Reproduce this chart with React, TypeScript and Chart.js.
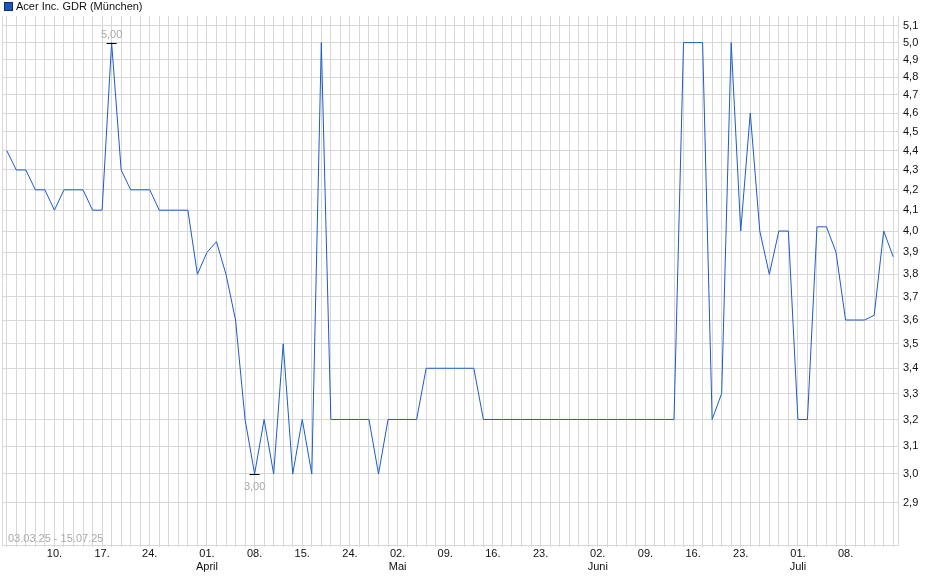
import { useEffect, useRef } from 'react';
import { Chart, registerables } from 'chart.js';

Chart.register(...registerables);

const seriesName = 'Acer Inc. GDR (München)';
const rangeText = '03.03.25 - 15.07.25';

// trading days per month (2025)
const marchDays = [3, 4, 5, 6, 7, 10, 11, 12, 13, 14, 17, 18, 19, 20, 21, 24, 25, 26, 27, 28, 31];
const aprilDays = [1, 2, 3, 4, 7, 8, 9, 10, 11, 14, 15, 16, 17, 22, 23, 24, 25, 28, 29, 30];
const mayDays = [2, 5, 6, 7, 8, 9, 12, 13, 14, 15, 16, 19, 20, 21, 22, 23, 26, 27, 28, 29, 30];
const juneDays = [2, 3, 4, 5, 6, 9, 10, 11, 12, 13, 16, 17, 18, 19, 20, 23, 24, 25, 26, 27, 30];
const julyDays = [1, 2, 3, 4, 7, 8, 9, 10, 11, 14, 15];

const prices = [
  4.4, 4.3, 4.3, 4.2, 4.2, 4.1, 4.2, 4.2, 4.2, 4.1, 4.1,
  5.0,
  4.3, 4.2, 4.2, 4.2, 4.1, 4.1, 4.1, 4.1,
  3.8, 3.9, 3.95, 3.8, 3.6,
  3.2, 3.0, 3.2, 3.0, 3.5, 3.0, 3.2, 3.0, 5.0,
  3.2, 3.2, 3.2, 3.2, 3.2,
  3.0,
  3.2, 3.2, 3.2, 3.2,
  3.4, 3.4, 3.4, 3.4, 3.4, 3.4,
  3.2, 3.2, 3.2, 3.2, 3.2, 3.2, 3.2, 3.2, 3.2, 3.2, 3.2,
  3.2, 3.2, 3.2, 3.2, 3.2, 3.2, 3.2, 3.2, 3.2, 3.2,
  5.0, 5.0, 5.0,
  3.2, 3.3, 5.0, 4.0, 4.6, 4.0, 3.8, 4.0, 4.0, 3.2,
  3.2, 4.02, 4.02, 3.9, 3.6, 3.6, 3.6, 3.62, 4.0, 3.88,
];

const tickDates = [
  '10.03', '17.03', '24.03', '01.04', '08.04', '15.04', '24.04', '02.05', '09.05',
  '16.05', '23.05', '02.06', '09.06', '16.06', '23.06', '01.07', '08.07',
];
const monthStarts = ['01.04', '02.05', '02.06', '01.07'];
const monthNames = ['April', 'Mai', 'Juni', 'Juli'];

const yTicks = [2.9, 3.0, 3.1, 3.2, 3.3, 3.4, 3.5, 3.6, 3.7, 3.8, 3.9, 4.0, 4.1, 4.2, 4.3, 4.4, 4.5, 4.6, 4.7, 4.8, 4.9, 5.0, 5.1];

const pad = (n: number) => (n < 10 ? '0' + n : '' + n);
const dates: string[] = [
  ...marchDays.map((d) => pad(d) + '.03'),
  ...aprilDays.map((d) => pad(d) + '.04'),
  ...mayDays.map((d) => pad(d) + '.05'),
  ...juneDays.map((d) => pad(d) + '.06'),
  ...julyDays.map((d) => pad(d) + '.07'),
];

const FONT = '"Liberation Sans", Arial, sans-serif';
const fmt = (v: number, digits: number) => v.toFixed(digits).replace('.', ',');

const overlay = {
  id: 'overlay',
  afterDraw(chart: Chart) {
    const ctx = chart.ctx;
    const area = chart.chartArea;
    const xs = chart.scales.x;
    const ys = chart.scales.y;
    ctx.save();

    // left border of the plot
    ctx.strokeStyle = '#d8d8d8';
    ctx.lineWidth = 1;
    ctx.beginPath();
    ctx.moveTo(Math.round(area.left) + 0.5, area.top);
    ctx.lineTo(Math.round(area.left) + 0.5, area.bottom);
    ctx.stroke();

    // legend
    ctx.fillStyle = '#1d55b8';
    ctx.fillRect(4, 2, 9, 9);
    ctx.strokeStyle = '#0c2c6a';
    ctx.strokeRect(4.5, 2.5, 8, 8);
    ctx.fillStyle = '#111';
    ctx.font = '11px ' + FONT;
    ctx.textBaseline = 'middle';
    ctx.textAlign = 'left';
    ctx.fillText(seriesName, 16, 7);

    // range text
    ctx.fillStyle = '#a9a9a9';
    ctx.font = '11px ' + FONT;
    ctx.fillText(rangeText, 8, area.bottom - 6);

    // high / low markers
    const hi = Math.max(...prices);
    const lo = Math.min(...prices);
    const hiIdx = prices.indexOf(hi);
    const loIdx = prices.indexOf(lo);
    const mark = (idx: number, v: number, above: boolean) => {
      const px = xs.getPixelForValue(idx);
      const py = Math.round(ys.getPixelForValue(v)) + 0.5;
      ctx.strokeStyle = '#000';
      ctx.lineWidth = 1;
      ctx.beginPath();
      ctx.moveTo(px - 5, py);
      ctx.lineTo(px + 5, py);
      ctx.stroke();
      ctx.fillStyle = '#a9a9a9';
      ctx.textAlign = 'center';
      ctx.fillText(fmt(v, 2), px, above ? py - 9 : py + 12);
    };
    mark(hiIdx, hi, true);
    mark(loIdx, lo, false);
    ctx.restore();
  },
};

export default function App() {
  const chartRef = useRef<HTMLCanvasElement>(null);
  const chartInstance = useRef<Chart | null>(null);

  useEffect(() => {
    document.body.style.margin = '0';
    if (!chartRef.current) return;
    if (chartInstance.current) chartInstance.current.destroy();
    const ctx = chartRef.current.getContext('2d');
    if (!ctx) return;

    chartInstance.current = new Chart(ctx, {
      type: 'line',
      data: {
        labels: dates,
        datasets: [
          {
            label: seriesName,
            data: prices,
            borderColor: '#1a5cc8',
            backgroundColor: '#1d55b8',
            borderWidth: 1,
            pointRadius: 0,
            tension: 0,
          },
        ],
      },
      options: {
        responsive: true,
        maintainAspectRatio: false,
        animation: false,
        layout: { padding: { top: 16, left: 2, right: 0, bottom: 0 } },
        plugins: {
          legend: { display: false },
          tooltip: { enabled: false },
        },
        scales: {
          x: {
            type: 'category',
            offset: true,
            grid: {
              offset: false,
              color: '#d8d8d8',
              lineWidth: 1,
              drawTicks: true,
              tickLength: 2,
            },
            border: { display: true, color: '#d8d8d8' },
            afterFit(scale: any) {
              scale.height = 34;
            },
            ticks: {
              autoSkip: false,
              maxRotation: 0,
              minRotation: 0,
              padding: 1,
              color: '#111',
              font: { family: FONT, size: 11, lineHeight: 1.15 },
              callback(_v: any, i: number) {
                const d = dates[i];
                if (!tickDates.includes(d)) return '';
                const day = d.slice(0, 3);
                const m = monthStarts.indexOf(d);
                return m >= 0 ? [day, monthNames[m]] : day;
              },
            },
          },
          y: {
            type: 'logarithmic',
            position: 'right',
            min: 2.758,
            max: 5.16,
            grid: { color: '#d8d8d8', lineWidth: 1, drawTicks: false },
            border: { display: true, color: '#d8d8d8' },
            afterBuildTicks(scale: any) {
              scale.ticks = yTicks.map((v) => ({ value: v }));
            },
            afterFit(scale: any) {
              scale.width = 42;
            },
            ticks: {
              autoSkip: false,
              padding: 5,
              color: '#111',
              font: { family: FONT, size: 11 },
              callback(v: any) {
                return fmt(Number(v), 1);
              },
            },
          },
        },
      },
      plugins: [overlay],
    });

    return () => {
      if (chartInstance.current) {
        chartInstance.current.destroy();
        chartInstance.current = null;
      }
    };
  }, []);

  return (
    <div style={{ position: 'relative', width: 940, height: 579, background: '#fff' }}>
      <canvas ref={chartRef} />
    </div>
  );
}
